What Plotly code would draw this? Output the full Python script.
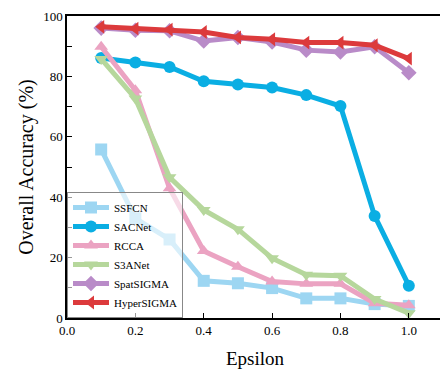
import plotly.graph_objects as go

epsilon = [0.1, 0.2, 0.3, 0.4, 0.5, 0.6, 0.7, 0.8, 0.9, 1.0]
ssfcn = [55.8, 33.0, 26.0, 12.3, 11.5, 9.9, 6.5, 6.5, 4.6, 4.0]
sacnet = [86.1, 84.6, 83.1, 78.4, 77.3, 76.3, 73.8, 70.2, 33.8, 10.7]
rcca = [89.8, 75.4, 43.0, 22.2, 17.0, 12.1, 11.3, 11.3, 4.9, 4.2]
s3anet = [85.8, 72.7, 46.6, 35.8, 29.4, 19.8, 14.3, 14.0, 6.3, 1.6]
spatsigma = [96.0, 95.3, 95.1, 91.7, 92.9, 91.4, 88.7, 88.1, 89.8, 81.2]
hypersigma = [96.4, 95.8, 95.5, 94.7, 92.9, 92.3, 91.2, 91.2, 90.3, 85.9]

series = [
    ("SSFCN", ssfcn, "#9DD6F2", "square"),
    ("SACNet", sacnet, "#0AAEE3", "circle"),
    ("RCCA", rcca, "#EBA3C2", "triangle-up"),
    ("S3ANet", s3anet, "#B6D79C", "triangle-down"),
    ("SpatSIGMA", spatsigma, "#B98BC8", "diamond"),
    ("HyperSIGMA", hypersigma, "#DC3A3C", "triangle-left"),
]

fig = go.Figure()
for name, vals, color, sym in series:
    fig.add_trace(go.Scatter(
        x=epsilon, y=vals, name=name, mode="lines+markers",
        line=dict(color=color, width=5),
        marker=dict(symbol=sym, size=12, color=color),
    ))

font_family = "Liberation Serif"
fig.update_layout(
    width=440, height=361,
    margin=dict(l=59, r=5, t=8, b=51, autoexpand=False),
    paper_bgcolor="white", plot_bgcolor="white",
    font=dict(family=font_family, color="black", size=13),
    showlegend=True,
    legend=dict(
        x=0, y=0, xanchor="left", yanchor="bottom",
        bgcolor="rgba(255,255,255,0.6)", bordercolor="#888888", borderwidth=1,
        font=dict(family=font_family, size=11),
        itemwidth=36, tracegroupgap=0,
    ),
    xaxis=dict(
        range=[0, 1.1], tickmode="array",
        tickvals=[0.0, 0.2, 0.4, 0.6, 0.8, 1.0],
        ticktext=["0.0", "0.2", "0.4", "0.6", "0.8", "1.0"],
        ticks="inside", ticklen=5, tickcolor="black",
        showline=True, linecolor="black", linewidth=1.5, mirror=True,
        showgrid=False, zeroline=False, automargin=False,
        title=dict(text="Epsilon", font=dict(size=19, family=font_family)),
    ),
    yaxis=dict(
        range=[0, 100], tickmode="array",
        tickvals=[0, 20, 40, 60, 80, 100],
        ticks="inside", ticklen=5, tickcolor="black",
        minor=dict(ticks="inside", ticklen=5, dtick=10, tickcolor="black", showgrid=False),
        showline=True, linecolor="black", linewidth=1.5, mirror=True,
        showgrid=False, zeroline=False, automargin=False,
        title=dict(text="Overall Accuracy (%)", font=dict(size=20, family=font_family), standoff=4),
    ),
)

fig.write_html("out.html")
